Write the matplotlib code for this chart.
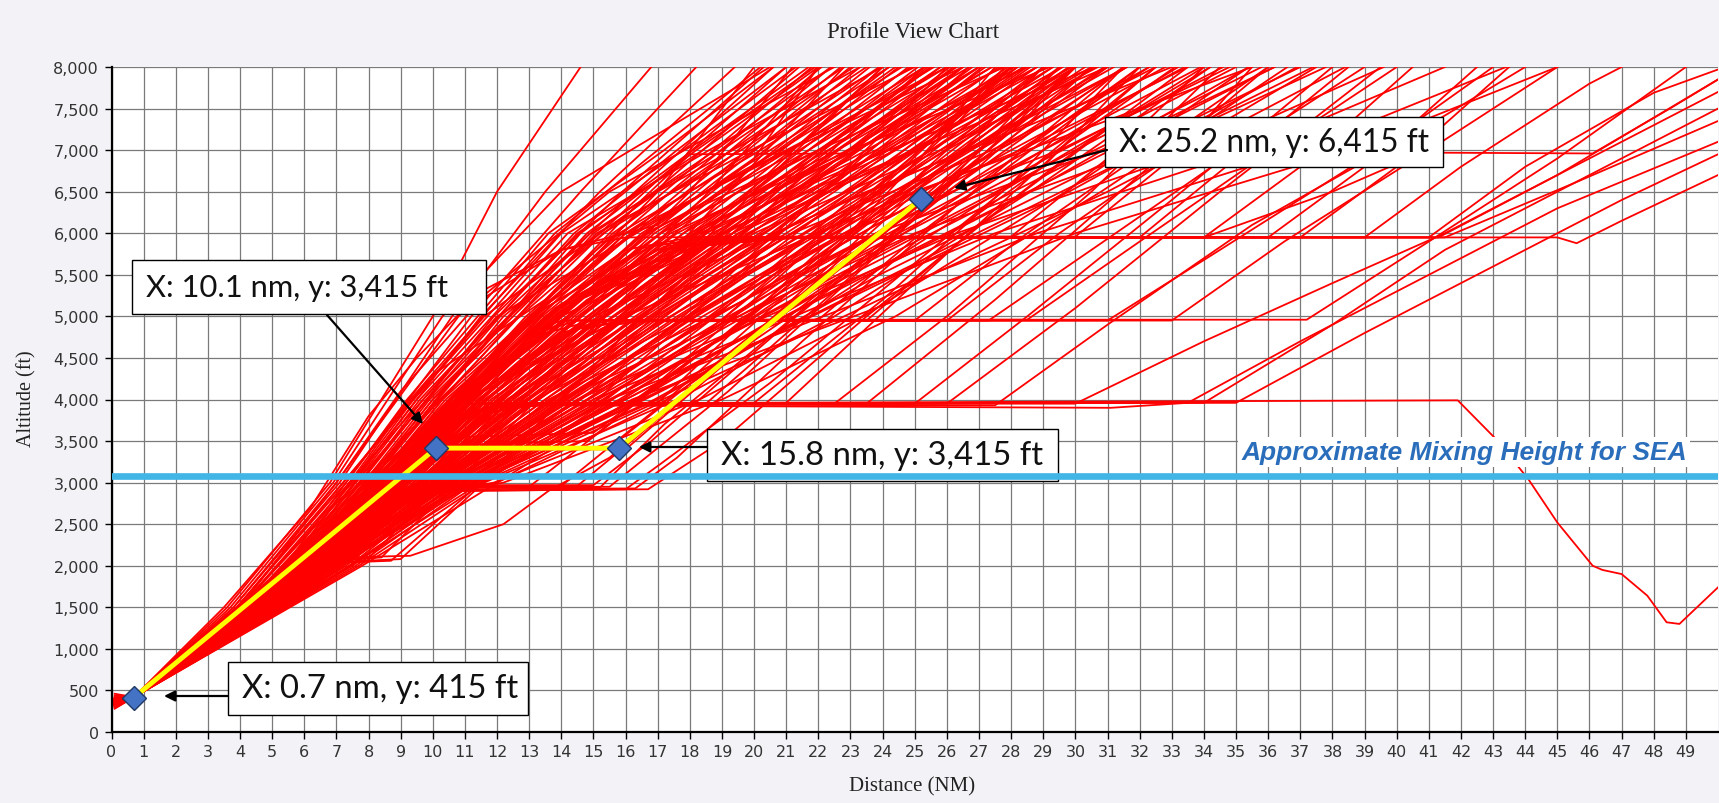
import matplotlib
matplotlib.use('Agg')
import matplotlib.pyplot as plt
from matplotlib.patches import Rectangle
from matplotlib.ticker import FuncFormatter, FixedLocator

# ---------------- data ----------------
x_ticks = list(range(0, 50))
y_ticks = list(range(0, 8001, 500))

# direct climbs, set A: (start alt ft, NM where the track passes 1,500 / 3,000 / 5,000 / 6,500 / 8,000 ft)
direct_alts_a = [1500, 3000, 5000, 6500, 8000]
direct_climbs_a = [
    (320, 3.6, 6.8, 10.0, 12.0, 14.6), (350, 3.8, 7.1, 10.6, 13.5, 16.8),
    (290, 3.9, 7.3, 11.2, 14.6, 18.2), (380, 4.0, 7.5, 11.5, 15.2, 19.4),
    (340, 4.1, 7.7, 11.9, 15.9, 20.3), (410, 4.0, 7.6, 12.1, 16.3, 20.6),
    (330, 4.2, 7.9, 12.4, 16.6, 21.0), (360, 4.3, 8.0, 12.2, 16.9, 21.4),
    (280, 4.1, 7.8, 12.7, 17.2, 21.8), (390, 4.4, 8.2, 12.9, 17.4, 22.1),
    (350, 4.2, 8.1, 13.1, 17.7, 22.4), (460, 4.5, 8.4, 13.0, 17.9, 22.7),
    (310, 4.3, 8.3, 13.4, 18.2, 23.0), (370, 4.6, 8.6, 13.6, 18.4, 23.3),
    (340, 4.4, 8.5, 13.8, 18.7, 23.6), (400, 4.5, 8.7, 13.9, 19.0, 23.9),
    (300, 4.7, 8.8, 14.2, 19.2, 24.2), (360, 4.5, 8.6, 14.4, 19.5, 24.5),
    (440, 4.6, 8.9, 14.5, 19.8, 24.8), (330, 4.8, 9.0, 14.8, 20.0, 25.1),
    (380, 4.6, 9.1, 15.0, 20.3, 25.5), (290, 4.7, 9.2, 15.2, 20.6, 25.8),
    (350, 4.9, 9.3, 15.4, 20.9, 26.1), (410, 4.7, 9.1, 15.6, 21.2, 26.5),
    (340, 4.8, 9.4, 15.9, 21.5, 26.8), (370, 5.0, 9.5, 16.1, 21.8, 27.2),
    (320, 4.8, 9.6, 16.3, 22.1, 27.6), (390, 4.9, 9.7, 16.6, 22.5, 28.0),
    (350, 5.1, 9.8, 16.8, 22.8, 28.4), (310, 4.9, 9.9, 17.1, 23.2, 28.8),
    (420, 5.0, 10.0, 17.4, 23.6, 29.3), (360, 5.2, 10.1, 17.7, 24.0, 29.8),
    (330, 5.0, 10.2, 18.0, 24.5, 30.3), (380, 5.1, 10.3, 18.4, 25.0, 30.9),
    (340, 5.3, 10.4, 18.8, 25.6, 31.6), (400, 5.1, 10.5, 19.2, 26.2, 32.3),
    (320, 5.2, 10.6, 19.7, 26.9, 33.2), (360, 5.4, 10.8, 20.3, 27.7, 34.2),
    (350, 5.3, 11.0, 21.0, 28.6, 35.4), (390, 5.5, 11.2, 21.8, 29.8, 36.9),
    (330, 5.4, 11.5, 22.8, 31.0, 38.4), (370, 3.7, 6.9, 10.3, 14.0, 20.5),
    (340, 3.8, 7.0, 10.8, 15.5, 22.5), (310, 3.9, 7.2, 11.6, 17.0, 24.0),
    (400, 4.0, 7.4, 12.0, 18.5, 26.0), (350, 4.1, 7.9, 13.5, 20.5, 28.5),
    (380, 4.2, 8.0, 14.0, 22.0, 31.0), (330, 4.4, 8.4, 15.0, 23.5, 33.0),
    (360, 4.6, 8.8, 16.0, 25.0, 35.5), (420, 4.3, 8.3, 13.2, 17.0, 20.0),
    (340, 4.5, 8.5, 14.0, 18.0, 21.2), (300, 4.6, 8.7, 14.6, 18.6, 22.0),
    (370, 4.4, 8.4, 13.5, 18.9, 24.4), (350, 4.6, 8.8, 14.6, 19.9, 25.3),
    (390, 4.7, 9.0, 15.3, 20.7, 26.3), (320, 4.8, 9.2, 15.8, 21.4, 27.0),
    (360, 4.9, 9.4, 16.4, 22.3, 27.9), (340, 5.0, 9.6, 17.0, 23.0, 28.6),
    (380, 5.1, 9.9, 17.6, 23.9, 29.6), (330, 5.2, 10.1, 18.2, 24.7, 30.6),
]

# direct climbs, set B: (start alt ft, NM where the track passes 2,000 / 4,000 / 6,000 / 7,000 / 8,000 ft)
direct_alts_b = [2000, 4000, 6000, 7000, 8000]
direct_climbs_b = [
    (350, 5.4, 9.2, 13.6, 17.2, 20.6), (330, 5.5, 9.4, 14.0, 17.8, 21.3),
    (370, 5.6, 9.6, 14.5, 18.4, 22.0), (340, 5.7, 9.8, 14.9, 19.0, 22.8),
    (390, 5.8, 10.0, 15.3, 19.6, 23.5), (320, 5.9, 10.2, 15.8, 20.2, 24.2),
    (360, 6.0, 10.4, 16.2, 20.8, 24.9), (350, 6.1, 10.6, 16.7, 21.4, 25.6),
    (400, 6.2, 10.8, 17.1, 22.0, 26.3), (330, 6.3, 11.0, 17.6, 22.6, 27.0),
    (370, 6.4, 11.2, 18.0, 23.2, 27.7), (340, 6.5, 11.4, 18.5, 23.8, 28.4),
    (380, 6.6, 11.6, 19.0, 24.4, 29.1), (310, 6.7, 11.8, 19.5, 25.1, 29.9),
    (360, 6.8, 12.0, 20.0, 25.8, 30.7), (350, 6.9, 12.3, 20.6, 26.6, 31.6),
    (390, 7.0, 12.6, 21.2, 27.4, 32.5), (330, 7.1, 12.9, 21.9, 28.3, 33.5),
    (370, 6.0, 10.1, 14.6, 18.1, 21.7), (340, 6.2, 10.5, 15.6, 19.3, 23.1),
    (320, 6.4, 10.9, 16.5, 20.5, 24.6), (360, 6.6, 11.3, 17.3, 21.7, 26.0),
    (380, 6.8, 11.7, 18.2, 22.9, 27.4), (350, 7.0, 12.1, 19.1, 24.1, 28.8),
    (330, 6.1, 10.3, 15.0, 18.8, 22.4), (400, 6.3, 10.7, 16.0, 20.0, 23.9),
    (340, 6.5, 11.1, 16.9, 21.1, 25.3), (370, 6.7, 11.5, 17.8, 22.3, 26.7),
    (320, 6.9, 11.9, 18.7, 23.5, 28.1), (360, 7.1, 12.4, 19.8, 24.9, 29.6),
    (350, 5.6, 9.5, 14.2, 18.6, 23.3), (390, 5.8, 9.9, 15.1, 19.9, 25.0),
    (330, 6.0, 10.3, 16.0, 21.1, 26.5), (370, 6.2, 10.6, 16.6, 22.0, 27.8),
    (340, 6.4, 11.0, 17.4, 23.0, 29.2), (380, 6.6, 11.4, 18.3, 24.2, 30.6),
    (320, 5.5, 9.3, 13.8, 17.0, 20.2), (360, 5.7, 9.7, 14.4, 17.6, 21.0),
    (350, 5.9, 10.0, 14.8, 18.2, 21.9), (400, 7.2, 13.2, 22.8, 29.5, 34.8),
    (340, 7.3, 13.6, 23.8, 30.8, 36.2), (370, 7.4, 14.0, 25.0, 32.2, 37.8),
    (330, 7.5, 14.5, 26.3, 33.8, 39.6), (360, 7.6, 15.0, 27.5, 35.4, 41.5),
    (350, 7.7, 15.5, 28.8, 37.0, 43.4), (380, 7.8, 16.2, 30.0, 38.5, 45.0),
]

# shallow climbs, set C: (start alt ft, NM where the track passes 2,800 / 3,000 / 4,000 / 5,000 / 6,500 / 8,000 ft)
direct_alts_c = [2800, 3000, 4000, 5000, 6500, 8000]
direct_climbs_c = [
    (340, 8.3, 9.6, 12.8, 15.8, 20.5, 25.4), (360, 8.4, 9.8, 13.3, 16.5, 21.3, 26.2),
    (330, 8.5, 10.0, 13.8, 17.2, 22.2, 27.1), (370, 8.6, 10.2, 14.3, 17.9, 23.0, 28.0),
    (350, 8.7, 10.4, 14.8, 18.6, 23.9, 29.0), (320, 8.8, 10.6, 15.3, 19.3, 24.8, 30.0),
    (390, 8.9, 10.8, 15.9, 20.0, 25.7, 31.0), (340, 9.0, 11.0, 16.4, 20.8, 26.6, 32.0),
    (360, 9.1, 11.3, 17.0, 21.6, 27.6, 33.1), (330, 9.2, 11.6, 17.6, 22.5, 28.6, 34.2),
    (380, 9.0, 11.9, 18.3, 23.4, 29.7, 35.4), (350, 9.1, 12.2, 19.0, 24.4, 30.8, 36.6),
    (340, 8.4, 9.7, 13.0, 16.0, 20.0, 24.0), (370, 8.6, 10.1, 13.9, 16.9, 21.0, 25.3),
    (330, 8.8, 10.5, 14.6, 17.8, 22.1, 26.7), (360, 8.9, 10.9, 15.4, 18.8, 23.3, 28.2),
    (350, 9.0, 11.4, 16.3, 19.9, 24.6, 29.8), (390, 9.2, 12.0, 17.3, 21.1, 26.0, 31.5),
]

# climbs right of the main band, set D: (start alt ft, NM where the track passes 2,000 / 3,000 / 4,000 / 5,500 / 7,000 / 8,000 ft)
direct_alts_d = [2000, 3000, 4000, 5500, 7000, 8000]
direct_climbs_d = [
    (340, 6.2, 9.4, 12.0, 17.0, 23.0, 27.0), (360, 6.3, 9.6, 12.5, 17.8, 24.0, 28.2),
    (330, 6.4, 9.8, 13.0, 18.6, 25.0, 29.3), (370, 6.5, 10.0, 13.5, 19.4, 26.0, 30.5),
    (350, 6.6, 10.2, 14.0, 20.2, 27.0, 31.6), (320, 6.7, 10.4, 14.5, 21.0, 28.0, 32.8),
    (390, 6.8, 10.6, 15.0, 21.8, 29.0, 33.9), (340, 6.9, 10.8, 15.5, 22.6, 30.0, 35.0),
    (360, 7.0, 11.0, 16.0, 23.4, 31.1, 36.2), (330, 7.0, 11.2, 16.6, 24.3, 32.2, 37.4),
    (380, 6.2, 9.5, 12.2, 16.6, 22.0, 25.8), (350, 6.3, 9.7, 12.7, 17.4, 23.2, 27.4),
    (340, 6.4, 9.9, 13.2, 18.2, 24.4, 28.8), (370, 6.5, 10.1, 13.7, 19.0, 25.5, 30.0),
    (330, 6.6, 10.3, 14.2, 19.8, 26.6, 31.2), (360, 6.7, 10.5, 14.8, 20.6, 27.6, 32.3),
    (350, 6.8, 10.7, 15.3, 21.4, 28.6, 33.4), (390, 6.9, 10.9, 15.8, 22.2, 29.6, 34.6),
    (320, 7.0, 11.1, 16.3, 23.0, 30.6, 35.8), (340, 7.1, 11.3, 16.9, 23.9, 31.7, 37.0),
]

# tracks with a level-off segment: (distance NM, altitude ft) waypoints
level_2000_tracks = [
    [(0.1, 330), (0.7, 420), (4.3, 1500), (6.4, 2050), (8.4, 2100), (10.6, 2950), (14.5, 4500), (19, 6200), (24, 8000)],
    [(0.1, 360), (0.7, 425), (4.6, 1600), (6.8, 2040), (9.0, 2080), (11.3, 2900), (15.5, 4600), (20.5, 6500), (25.5, 8000)],
    [(0.1, 340), (0.7, 415), (4.8, 1650), (7.0, 2070), (8.0, 2090), (10.2, 2950), (13.5, 4300), (17.5, 5800), (22.8, 8000)],
    [(0.1, 350), (0.7, 420), (4.9, 1700), (7.2, 2100), (9.3, 2120), (12.2, 2500), (13.6, 2900), (15.5, 3300), (19.5, 4600), (25, 6300), (30, 8000)],
    [(0.1, 330), (0.7, 418), (4.5, 1550), (6.6, 2030), (8.7, 2060), (11.5, 3000), (16, 4800), (21, 6600), (26.5, 8000)],
]
level_3000_tracks = [
    [(0.1, 340), (0.7, 420), (4.9, 1650), (8.5, 2800), (9.5, 2950), (15.5, 2950), (19.2, 4100), (24, 5800), (29.5, 8000)],
    [(0.1, 360), (0.7, 420), (4.8, 1600), (8.8, 2850), (10.0, 2920), (16.3, 2930), (17.6, 3300), (21.5, 4700), (26.5, 6400), (31.5, 8000)],
    [(0.1, 320), (0.7, 415), (5.0, 1700), (9.0, 2880), (10.6, 2960), (14.0, 2960), (17.0, 3900), (22, 5600), (27.8, 8000)],
    [(0.1, 350), (0.7, 420), (5.1, 1700), (9.2, 2850), (11.0, 2900), (16.0, 2920), (17.0, 3200), (20.5, 4200), (25.5, 5800), (32.5, 8000)],
    [(0.1, 330), (0.7, 420), (4.7, 1600), (8.4, 2800), (9.3, 2940), (13.0, 2950), (15.5, 3700), (20, 5200), (26, 7300), (27.5, 8000)],
    [(0.1, 370), (0.7, 425), (5.0, 1650), (8.9, 2870), (10.3, 2970), (15.0, 2970), (16.8, 3500), (21, 4900), (27, 6800), (30.5, 8000)],
    [(0.1, 340), (0.7, 420), (4.9, 1600), (8.6, 2830), (9.8, 2900), (16.7, 2920), (19, 3500), (23.5, 5000), (29, 6700), (33.5, 8000)],
    [(0.1, 350), (0.7, 420), (4.8, 1600), (8.7, 2880), (9.9, 2950), (14.5, 2960), (16.5, 3600), (21, 5100), (26.5, 7000), (29, 8000)],
    [(0.1, 330), (0.7, 415), (5.0, 1650), (9.1, 2900), (10.8, 2940), (15.2, 2940), (17.2, 3700), (22.5, 5400), (28.5, 7400), (30, 8000)],
    [(0.1, 350), (0.7, 420), (4.6, 1550), (8.5, 2900), (10.2, 3380), (15.5, 3420), (20, 4800), (25.3, 6450), (30, 8000)],
    [(0.1, 330), (0.7, 415), (4.5, 1500), (8.3, 2850), (10.5, 3400), (16.0, 3400), (20.5, 4900), (26, 6600), (30.5, 8000)],
    [(0.1, 360), (0.7, 420), (4.7, 1600), (8.6, 2950), (10.0, 3350), (13.5, 3450), (17.5, 4500), (23, 6200), (28, 8000)],
    [(0.1, 340), (0.7, 420), (4.5, 1520), (8.4, 2900), (10.4, 3450), (14.8, 3500), (18.5, 4600), (24.5, 6500), (29.5, 8000)],
    [(0.1, 350), (0.7, 420), (4.6, 1550), (8.6, 2950), (11.0, 3550), (15.0, 3600), (19.5, 4900), (25.5, 6700), (31, 8000)],
]
level_4000_tracks = [
    [(0.1, 340), (0.7, 420), (4.6, 1550), (8.5, 2900), (10.6, 3700), (11.5, 3950), (20.0, 3960), (24, 5200), (28, 6600), (31.5, 8000)],
    [(0.1, 360), (0.7, 420), (4.7, 1600), (8.7, 2950), (11.0, 3800), (12.0, 3950), (22.5, 3950), (26, 5000), (30.5, 6500), (34.5, 8000)],
    [(0.1, 330), (0.7, 415), (4.8, 1650), (9.0, 3000), (11.5, 3850), (12.5, 3960), (25.0, 3950), (28.5, 5000), (33, 6400), (38, 8000)],
    [(0.1, 350), (0.7, 420), (4.9, 1650), (9.2, 3000), (12.0, 3900), (13.0, 3940), (27.5, 3930), (31, 4900), (35.5, 6100), (41, 7300), (44, 8000)],
    [(0.1, 340), (0.7, 420), (4.6, 1550), (8.8, 2950), (11.5, 3800), (12.8, 3950), (30.0, 3950), (34, 4700), (38, 5400), (41.5, 6000), (46, 6900), (50, 7700)],
    [(0.1, 370), (0.7, 425), (4.8, 1600), (9.0, 2950), (11.8, 3850), (13.2, 3930), (31.1, 3900), (33.5, 3960), (37, 4700), (41, 5500), (45, 6300), (50, 7100)],
    [(0.1, 330), (0.7, 415), (4.7, 1600), (8.9, 2950), (12.2, 3900), (13.5, 3950), (34.0, 3960), (38, 4900), (41.5, 5800), (45.5, 6600), (50, 7350)],
    [(0.1, 350), (0.7, 420), (4.9, 1650), (9.1, 3000), (12.5, 3900), (14.0, 3950), (35.0, 3960), (39, 4800), (43, 5600), (47, 6400), (50, 6950)],
    [(0.1, 340), (0.7, 420), (4.5, 1500), (8.4, 2900), (10.3, 3700), (11.0, 3950), (17.0, 3960), (21.5, 5600), (26, 7200), (28, 8000)],
    [(0.1, 360), (0.7, 420), (4.6, 1550), (8.6, 2950), (10.8, 3800), (11.6, 3950), (18.5, 3950), (22.5, 5300), (27, 6900), (30, 8000)],
    [(0.1, 350), (0.7, 420), (4.5, 1520), (8.5, 2920), (10.5, 3750), (11.2, 3950), (15.0, 3960), (19.5, 5500), (24, 7200), (26.5, 8000)],
    [(0.1, 330), (0.7, 415), (4.7, 1580), (8.7, 2950), (11.1, 3800), (11.8, 3950), (21.0, 3960), (25, 5400), (29.5, 7000), (32.5, 8000)],
    [(0.1, 370), (0.7, 425), (4.8, 1620), (8.9, 2970), (11.4, 3850), (12.2, 3950), (23.5, 3950), (27.5, 5200), (32, 6700), (36, 8000)],
    [(0.1, 340), (0.7, 420), (4.9, 1650), (9.1, 3000), (11.8, 3880), (12.6, 3950), (26.0, 3950), (30, 5100), (34.5, 6500), (39.5, 8000)],
]
# the one track that holds 4,000 ft to 42 NM and then descends
descending_track = [(0.1, 350), (0.7, 420), (4.8, 1600), (9.0, 2950), (11.0, 3750), (12.0, 3950), (41.9, 3990),
                    (43.1, 3520), (44.1, 3040), (45.0, 2520), (46.1, 2000), (46.4, 1950), (47.0, 1900),
                    (47.8, 1640), (48.4, 1320), (48.8, 1300), (50.0, 1740)]
level_5000_tracks = [
    [(0.1, 340), (0.7, 420), (4.4, 1500), (8.0, 2900), (10.5, 3900), (13.0, 4800), (14.0, 4950), (22, 4960), (25.5, 6100), (30, 7400), (32, 8000)],
    [(0.1, 360), (0.7, 420), (4.5, 1550), (8.2, 2950), (11.0, 4000), (13.5, 4800), (15.0, 4950), (25, 4950), (28.5, 6000), (33, 7200), (36, 8000)],
    [(0.1, 330), (0.7, 415), (4.6, 1550), (8.5, 3000), (11.5, 4100), (14.5, 4850), (16.0, 4950), (27.3, 4950), (30.5, 5800), (35, 7000), (39, 8000)],
    [(0.1, 350), (0.7, 420), (4.5, 1500), (8.3, 2950), (11.2, 4000), (14.0, 4800), (15.5, 4950), (28.5, 4960), (32, 5900), (36.5, 7100), (40, 8000)],
    [(0.1, 340), (0.7, 420), (4.7, 1600), (8.6, 3000), (12.0, 4200), (15.5, 4900), (17.0, 4960), (37.2, 4960), (41, 5900), (45, 6900), (49, 8000)],
    [(0.1, 370), (0.7, 425), (4.4, 1500), (8.1, 2900), (10.8, 3950), (13.2, 4800), (14.5, 4950), (19, 4960), (23, 6300), (27, 7600), (28.5, 8000)],
    [(0.1, 330), (0.7, 415), (4.6, 1550), (8.4, 3000), (11.3, 4050), (14.5, 4850), (16.0, 4940), (31.0, 4950), (34.5, 5800), (39, 6900), (43, 8000)],
    [(0.1, 350), (0.7, 420), (4.4, 1500), (8.1, 2920), (10.9, 3950), (13.3, 4800), (14.2, 4950), (20.5, 4960), (24, 6200), (28.5, 7600), (30, 8000)],
    [(0.1, 340), (0.7, 420), (4.6, 1560), (8.4, 2980), (11.3, 4050), (14.2, 4820), (15.2, 4950), (23.5, 4950), (27, 6100), (31.5, 7400), (34, 8000)],
    [(0.1, 360), (0.7, 420), (4.7, 1580), (8.5, 3000), (11.6, 4100), (14.8, 4850), (15.8, 4950), (26.0, 4950), (29.5, 6000), (34, 7200), (37.5, 8000)],
    [(0.1, 330), (0.7, 415), (4.8, 1620), (8.7, 3000), (12.1, 4200), (15.4, 4880), (16.5, 4950), (33.0, 4950), (36.5, 5900), (41, 7000), (45, 8000)],
]
level_6000_tracks = [
    [(0.1, 340), (0.7, 420), (4.3, 1500), (7.6, 2800), (10, 3800), (13, 5000), (16, 5800), (18, 5950), (26, 5960), (29, 6800), (32, 8000)],
    [(0.1, 360), (0.7, 420), (4.4, 1500), (7.8, 2850), (10.2, 3850), (13.5, 5100), (16.8, 5850), (19, 5950), (30, 5960), (33, 6900), (35.5, 8000)],
    [(0.1, 330), (0.7, 415), (4.5, 1550), (8.0, 2900), (10.5, 3900), (14, 5150), (17.5, 5850), (20, 5950), (34, 5950), (37, 6800), (40.5, 8000)],
    [(0.1, 350), (0.7, 420), (4.6, 1550), (8.2, 2900), (10.8, 3950), (14.5, 5200), (18, 5850), (20.5, 5960), (41.0, 5950), (44, 6800), (48, 7690), (50, 7970)],
    [(0.1, 340), (0.7, 420), (4.7, 1600), (8.4, 2950), (11.0, 4000), (15, 5250), (18.5, 5850), (21, 5950), (41.3, 5950), (45, 6700), (50, 7850)],
    [(0.1, 370), (0.7, 425), (4.5, 1550), (8.1, 2900), (10.6, 3900), (14.2, 5150), (17.8, 5850), (20, 5940), (41.5, 5950), (45.5, 6600), (50, 7500)],
    [(0.1, 330), (0.7, 415), (4.6, 1600), (8.3, 2950), (10.9, 3950), (14.8, 5200), (18.2, 5850), (21.5, 5950), (45.0, 5950), (45.6, 5880), (47, 6150), (50, 6700)],
    [(0.1, 350), (0.7, 420), (4.4, 1500), (7.9, 2850), (10.3, 3850), (13.8, 5100), (17.0, 5800), (19.5, 5950), (34, 5950), (38, 6500), (40.8, 6970), (46.1, 6960), (48.5, 7500), (50, 7850)],
    [(0.1, 340), (0.7, 420), (4.0, 1500), (7.0, 3000), (9.0, 4100), (11.5, 5200), (14.0, 5800), (16.0, 5950), (23, 5960), (26, 7000), (29, 8000)],
    [(0.1, 360), (0.7, 420), (4.4, 1550), (7.9, 2850), (10.4, 3850), (13.9, 5100), (17.2, 5800), (19.8, 5950), (37, 5950), (40, 6800), (43.5, 8000)],
    [(0.1, 350), (0.7, 420), (4.3, 1500), (7.7, 2820), (10.1, 3820), (13.3, 5050), (16.5, 5820), (18.5, 5950), (28, 5960), (31, 6900), (34, 8000)],
    [(0.1, 330), (0.7, 415), (4.5, 1550), (8.0, 2880), (10.4, 3880), (13.9, 5120), (17.2, 5840), (19.2, 5950), (32, 5950), (35, 6900), (38.5, 8000)],
    [(0.1, 370), (0.7, 425), (4.6, 1580), (8.2, 2920), (10.7, 3920), (14.4, 5180), (17.9, 5860), (20.2, 5950), (36, 5950), (39, 6800), (42.5, 8000)],
    [(0.1, 340), (0.7, 420), (4.7, 1600), (8.3, 2940), (10.9, 3960), (14.7, 5220), (18.3, 5870), (20.8, 5950), (39, 5950), (42, 6800), (46, 7800), (47, 8000)],
]
level_7000_tracks = [
    [(0.1, 340), (0.7, 420), (3.9, 1500), (7.0, 2900), (10.0, 4300), (13.5, 5200), (16.5, 6400), (18, 6950), (23, 6960), (25, 7600), (26, 8000)],
    [(0.1, 350), (0.7, 420), (3.5, 1500), (6.2, 2700), (8.0, 3800), (9.5, 4500), (11.5, 5300), (14, 5800), (17, 6100), (20, 6900), (22, 8000)],
]

# reference point markers
marker_x = [0.7, 10.1, 15.8, 25.2]
marker_y = [415, 3415, 3415, 6415]
marker_labels = ["X: 0.7 nm, y: 415 ft", "X: 10.1 nm, y: 3,415 ft",
                 "X: 15.8 nm, y: 3,415 ft", "X: 25.2 nm, y: 6,415 ft"]
mixing_height = 3080
mixing_label = "Approximate Mixing Height for SEA"

# ---------------- figure ----------------
W, H = 1719, 804
fig = plt.figure(figsize=(W / 100, H / 100), dpi=100, facecolor='#F3F3F7')
ax = fig.add_axes([111.5 / W, 1 - 733 / H, (1718 - 111.5) / W, (733 - 68) / H])
ax.set_facecolor('white')
ax.set_xlim(0, 50)
ax.set_ylim(0, 8000)

ax.xaxis.set_major_locator(FixedLocator(x_ticks))
ax.yaxis.set_major_locator(FixedLocator(y_ticks))
ax.yaxis.set_major_formatter(FuncFormatter(lambda v, p: f"{int(v):,}"))
ax.grid(True, color='#7a7a7a', lw=0.9, zorder=0)
ax.set_axisbelow(True)
for s in ['top', 'right']:
    ax.spines[s].set_visible(False)
for s in ['left', 'bottom']:
    ax.spines[s].set_linewidth(1.6)
    ax.spines[s].set_zorder(3)
ax.tick_params(axis='both', direction='out', length=5, width=1.0, pad=4,
               labelsize=11.5, labelcolor='#333333')

red = '#FF0000'
LW = 1.3
for rows, alts in [(direct_climbs_a, direct_alts_a), (direct_climbs_b, direct_alts_b),
                   (direct_climbs_c, direct_alts_c), (direct_climbs_d, direct_alts_d)]:
    for row in rows:
        xs = [0.1, 0.7] + list(row[1:])
        ys = [row[0], 420] + alts
        ax.plot(xs, ys, color=red, lw=LW, zorder=2, solid_joinstyle='round')
for group in [level_2000_tracks, level_3000_tracks, level_4000_tracks,
              level_5000_tracks, level_6000_tracks, level_7000_tracks, [descending_track]]:
    for tr in group:
        ax.plot([p[0] for p in tr], [p[1] for p in tr], color=red, lw=LW, zorder=2,
                solid_joinstyle='round')

# yellow reference path and markers
ax.plot(marker_x, marker_y, color='#FFFF00', lw=3.5, zorder=5, solid_capstyle='butt')
ax.plot(marker_x, marker_y, 'D', ms=12, mfc='#4472C4', mec='#1F3864', mew=1.0, zorder=6)

# annotation boxes (layout in pixels -> data)
def px2x(px):
    return (px - 111.5) / ((1718 - 111.5) / 50)

def py2y(py):
    return (733 - py) / ((733 - 68) / 8000)

boxes = [  # left, right, top, bottom px ; arrow tail, tip px
    (228, 528, 663, 716, (228, 697), (164, 697)),
    (131.6, 485.7, 261, 315, (327, 316), (423, 425)),
    (707, 1058, 430, 482, (707, 448), (639, 448)),
    (1105, 1443, 118, 168, (1107, 151), (954, 189)),
]
target_w = [277, 303, 322, 310]
fig.canvas.draw()
renderer = fig.canvas.get_renderer()
for (l, r, t, b, tail, tip), lab, tw in zip(boxes, marker_labels, target_w):
    rect = Rectangle((px2x(l), py2y(b)), px2x(r) - px2x(l), py2y(t) - py2y(b),
                     fc='white', ec='black', lw=1.0, zorder=7)
    ax.add_patch(rect)
    txt = ax.text(px2x(l + 14), py2y((t + b) / 2), lab, ha='left', va='center',
                  fontsize=20, family='Lato', color='#111111', zorder=8)
    wext = txt.get_window_extent(renderer).width
    txt.set_fontsize(20 * tw / wext)
    ax.annotate('', xy=(px2x(tip[0]), py2y(tip[1])), xytext=(px2x(tail[0]), py2y(tail[1])),
                arrowprops=dict(arrowstyle='-|>', color='black', lw=1.6,
                                mutation_scale=16, shrinkA=0, shrinkB=0), zorder=8)

# mixing height line and label
ax.axhline(mixing_height, color='#41B6E6', lw=4.8, zorder=9)
ax.text(px2x(1687), py2y(452.7), mixing_label, ha='right', va='center',
        fontsize=19, fontweight='bold', fontstyle='italic', family='Liberation Sans',
        color='#2A6EBB', zorder=9,
        bbox=dict(boxstyle='square,pad=0.12', fc='white', ec='none'))

# titles
fig.text(913 / W, 1 - 33 / H, 'Profile View Chart', ha='center', va='center',
         family='Liberation Serif', fontsize=16.5, color='#222222')
fig.text(912 / W, 1 - 787 / H, 'Distance (NM)', ha='center', va='center',
         family='Liberation Serif', fontsize=15, color='#222222')
fig.text(27 / W, 1 - 399 / H, 'Altitude (ft)', ha='center', va='center', rotation=90,
         family='Liberation Serif', fontsize=14.5, color='#222222')

fig.savefig('out.png', dpi=100, facecolor=fig.get_facecolor())
